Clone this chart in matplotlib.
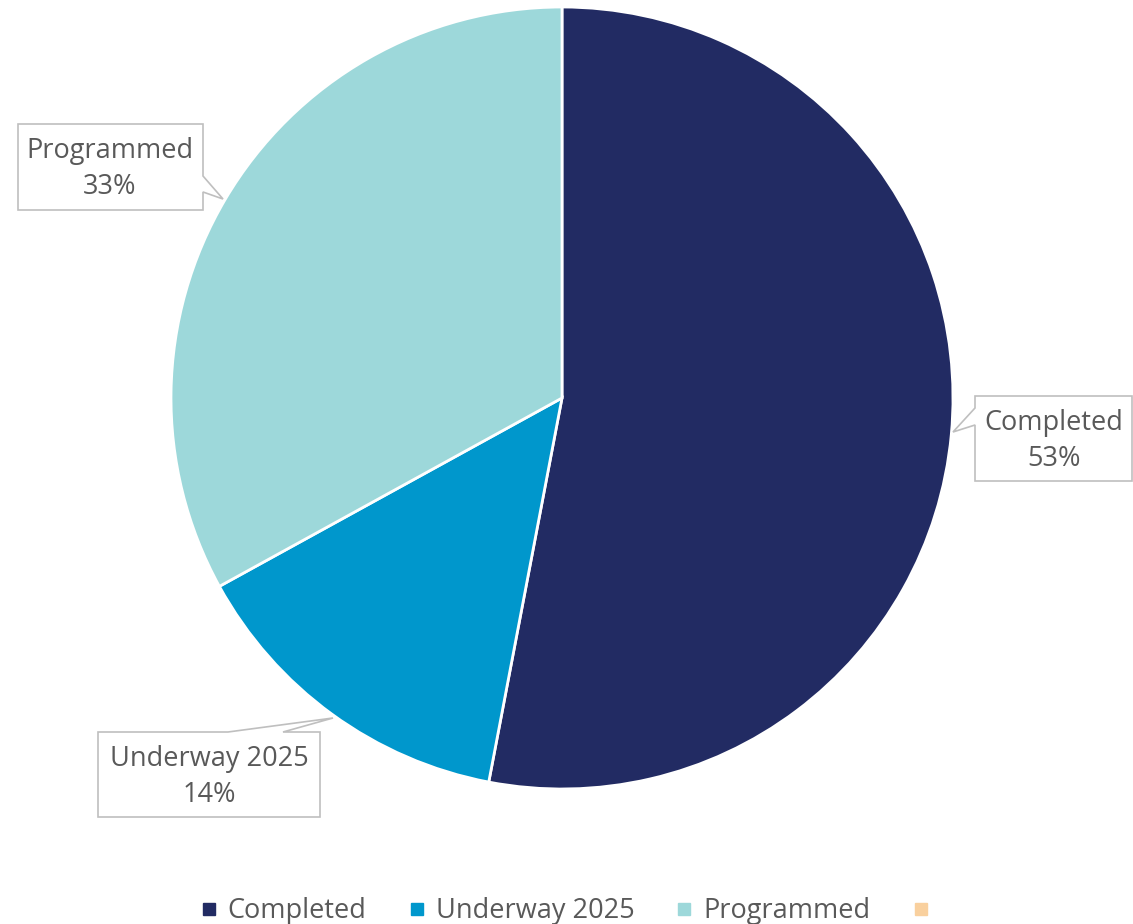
import matplotlib.pyplot as plt
from matplotlib.patches import Polygon
from matplotlib.lines import Line2D

plt.rcParams['font.family'] = ['Open Sans', 'DejaVu Sans']

# data
labels = ["Completed", "Underway 2025", "Programmed"]
shares = [53, 14, 33]
colors = ["#222B63", "#0097CC", "#9DD8DA"]
legend_labels = ["Completed", "Underway 2025", "Programmed", ""]
legend_colors = ["#222B63", "#0097CC", "#9DD8DA", "#F9D09E"]

W, H = 1133, 924
fig = plt.figure(figsize=(W / 100, H / 100), dpi=100)
ax = fig.add_axes([0, 0, 1, 1])

cx, cy, r = 562, H - 398, 391
ax.pie(shares, colors=colors, startangle=90, counterclock=False,
       center=(cx, cy), radius=r, frame=True,
       wedgeprops=dict(edgecolor="white", linewidth=2))
ax.set_xlim(0, W)
ax.set_ylim(0, H)
ax.set_aspect("equal")
ax.axis("off")


def callout(pts, text, tx, ty):
    poly = Polygon([(x, H - y) for x, y in pts], closed=True,
                   facecolor="white", edgecolor="#BFBFBF", linewidth=1.2, zorder=5)
    ax.add_patch(poly)
    ax.text(tx, H - ty, text, ha="center", va="center", fontsize=19.5,
            color="#595959", linespacing=1.42, zorder=6)


# label boxes with pointers (pixel layout)
callout([(18, 124), (203, 124), (203, 176), (223, 199), (203, 192), (203, 210), (18, 210)],
        "Programmed\n" + f"{shares[2]}%", 110, 169)
callout([(975, 396), (1132, 396), (1132, 481), (975, 481), (975, 425), (953, 432), (975, 408)],
        "Completed\n" + f"{shares[0]}%", 1054, 441)
callout([(98, 732), (228, 732), (333, 718), (283, 732), (320, 732), (320, 817), (98, 817)],
        "Underway 2025\n" + f"{shares[1]}%", 209, 777)

handles = [Line2D([], [], marker="s", linestyle="none", markersize=9,
                  markerfacecolor=c, markeredgecolor=c) for c in legend_colors]
fig.legend(handles, legend_labels, loc="lower center", bbox_to_anchor=(0.502, -0.028),
           ncol=4, frameon=False, fontsize=19.5, labelcolor="#595959",
           handletextpad=0.3, columnspacing=1.45, handlelength=0.8)

fig.savefig("out.png", dpi=100)
